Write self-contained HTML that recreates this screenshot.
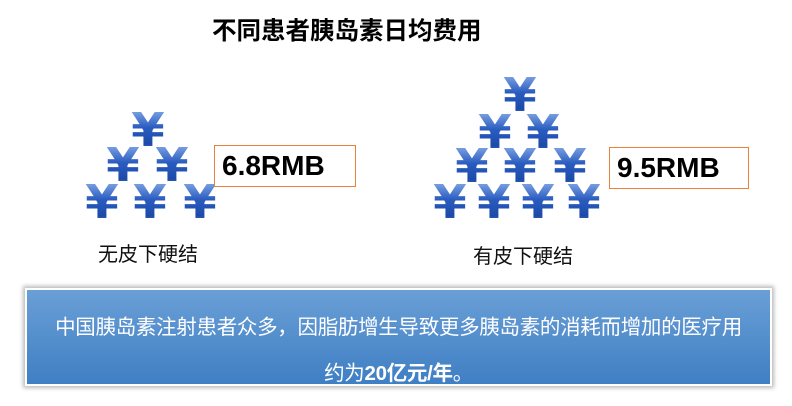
<!DOCTYPE html>
<html><head><meta charset="utf-8"><style>
body{margin:0;width:792px;height:406px;background:#fff;position:relative;overflow:hidden;font-family:"Liberation Sans","Noto Sans CJK SC",sans-serif}
.a{position:absolute}
.yen{position:absolute;width:40px;margin-left:-20px;text-align:center;font-weight:bold;font-size:46px;line-height:46px;margin-top:-23px;transform:scaleX(1.05);background:linear-gradient(#8fb2ea,#2a5cc0 45%,#1c4aa8 80%,#4a78c8);-webkit-background-clip:text;color:transparent;font-family:"DejaVu Sans",sans-serif}
.box{position:absolute;border:1px solid #e8823a;background:#fff;font-weight:bold;font-size:28px;line-height:40px;padding-left:7px;box-sizing:border-box}
.lbl{position:absolute;font-size:20px;color:#111}
</style></head><body>
<div class="a" style="left:212px;top:12px;font-size:24.5px;font-weight:bold;">不同患者胰岛素日均费用</div>

<div>
<div class="yen" style="left:148px;top:130px">¥</div>
<div class="yen" style="left:123px;top:165px">¥</div>
<div class="yen" style="left:172px;top:165px">¥</div>
<div class="yen" style="left:102px;top:202px">¥</div>
<div class="yen" style="left:150px;top:202px">¥</div>
<div class="yen" style="left:200px;top:202px">¥</div>
</div>
<div class="box" style="left:214px;top:145px;width:142px;height:42px">6.8RMB</div>
<div class="lbl" style="left:98px;top:238px">无皮下硬结</div>

<div>
<div class="yen" style="left:520px;top:95px">¥</div>
<div class="yen" style="left:495px;top:132px">¥</div>
<div class="yen" style="left:543px;top:132px">¥</div>
<div class="yen" style="left:472px;top:166px">¥</div>
<div class="yen" style="left:520px;top:166px">¥</div>
<div class="yen" style="left:570px;top:166px">¥</div>
<div class="yen" style="left:450px;top:202px">¥</div>
<div class="yen" style="left:494px;top:202px">¥</div>
<div class="yen" style="left:538px;top:202px">¥</div>
<div class="yen" style="left:584px;top:202px">¥</div>
</div>
<div class="box" style="left:609px;top:147px;width:140px;height:42px">9.5RMB</div>
<div class="lbl" style="left:473px;top:240px">有皮下硬结</div>

<div class="a" style="left:25px;top:288px;width:747px;height:98px;background:linear-gradient(#6a9fd6,#3f7fc4);box-shadow:0 0 4px 2px #bbb;border:2px solid #fff;box-sizing:border-box;color:#fff;text-align:center;font-size:20.5px;letter-spacing:-0.3px">
<div style="position:absolute;left:0;right:0;top:20px">中国胰岛素注射患者众多，因脂肪增生导致更多胰岛素的消耗而增加的医疗用</div>
<div style="position:absolute;left:0;right:0;top:66px">约为<b>20亿元/年</b>。</div>
</div>
</body></html>
